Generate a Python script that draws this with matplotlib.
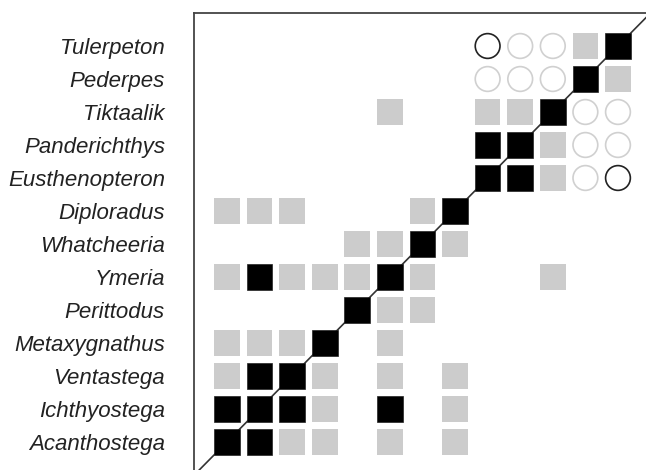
import matplotlib
matplotlib.use("Agg")
import matplotlib.pyplot as plt
from matplotlib.patches import Rectangle, Ellipse

# taxa, bottom to top (same order used for columns, left to right)
taxa = ["Acanthostega", "Ichthyostega", "Ventastega", "Metaxygnathus",
        "Perittodus", "Ymeria", "Whatcheeria", "Diploradus",
        "Eusthenopteron", "Panderichthys", "Tiktaalik", "Pederpes",
        "Tulerpeton"]

# cell codes: 0 empty, 1 grey square, 2 black square, 3 light circle, 4 dark circle
acanthostega   = [2, 2, 1, 1, 0, 1, 0, 1, 0, 0, 0, 0, 0]
ichthyostega   = [2, 2, 2, 1, 0, 2, 0, 1, 0, 0, 0, 0, 0]
ventastega     = [1, 2, 2, 1, 0, 1, 0, 1, 0, 0, 0, 0, 0]
metaxygnathus  = [1, 1, 1, 2, 0, 1, 0, 0, 0, 0, 0, 0, 0]
perittodus     = [0, 0, 0, 0, 2, 1, 1, 0, 0, 0, 0, 0, 0]
ymeria         = [1, 2, 1, 1, 1, 2, 1, 0, 0, 0, 1, 0, 0]
whatcheeria    = [0, 0, 0, 0, 1, 1, 2, 1, 0, 0, 0, 0, 0]
diploradus     = [1, 1, 1, 0, 0, 0, 1, 2, 0, 0, 0, 0, 0]
eusthenopteron = [0, 0, 0, 0, 0, 0, 0, 0, 2, 2, 1, 3, 4]
panderichthys  = [0, 0, 0, 0, 0, 0, 0, 0, 2, 2, 1, 3, 3]
tiktaalik      = [0, 0, 0, 0, 0, 1, 0, 0, 1, 1, 2, 3, 3]
pederpes       = [0, 0, 0, 0, 0, 0, 0, 0, 3, 3, 3, 2, 1]
tulerpeton     = [0, 0, 0, 0, 0, 0, 0, 0, 4, 3, 3, 1, 2]

rows = [acanthostega, ichthyostega, ventastega, metaxygnathus, perittodus,
        ymeria, whatcheeria, diploradus, eusthenopteron, panderichthys,
        tiktaalik, pederpes, tulerpeton]

fig = plt.figure(figsize=(6.46, 4.70), dpi=100)
ax = fig.add_axes([194 / 646, 0, 452 / 646, 457 / 470])
ax.set_xlim(-1.01, 12.86)
ax.set_ylim(-0.85, 13.0)

ax.plot([-1.5, 13.5], [-1.5, 13.5], color="#333333", lw=1.2, zorder=1)

sw, sh = 0.79, 0.78
for r, row in enumerate(rows):
    for c, v in enumerate(row):
        if v == 1:
            ax.add_patch(Rectangle((c - sw / 2, r - sh / 2), sw, sh,
                                   facecolor="#cccccc", edgecolor="none", zorder=2))
        elif v == 2:
            ax.add_patch(Rectangle((c - sw / 2, r - sh / 2), sw, sh,
                                   facecolor="black", edgecolor="#222222",
                                   lw=0.5, zorder=2))
        elif v in (3, 4):
            ec = "#d0d0d0" if v == 3 else "#222222"
            ax.add_patch(Ellipse((c, r), 0.76, 0.75, facecolor="white",
                                 edgecolor=ec, lw=1.2, zorder=2))

ax.set_xticks([])
ax.set_yticks(range(len(taxa)))
ax.set_yticklabels(taxa, fontstyle="italic", family="Liberation Sans",
                   fontsize=16, color="#222222")
ax.tick_params(axis="y", length=0, pad=21)
ax.spines["right"].set_visible(False)
ax.spines["bottom"].set_visible(False)
for s in ("left", "top"):
    ax.spines[s].set_color("#444444")
    ax.spines[s].set_linewidth(1.3)

fig.savefig("out.png", dpi=100)
